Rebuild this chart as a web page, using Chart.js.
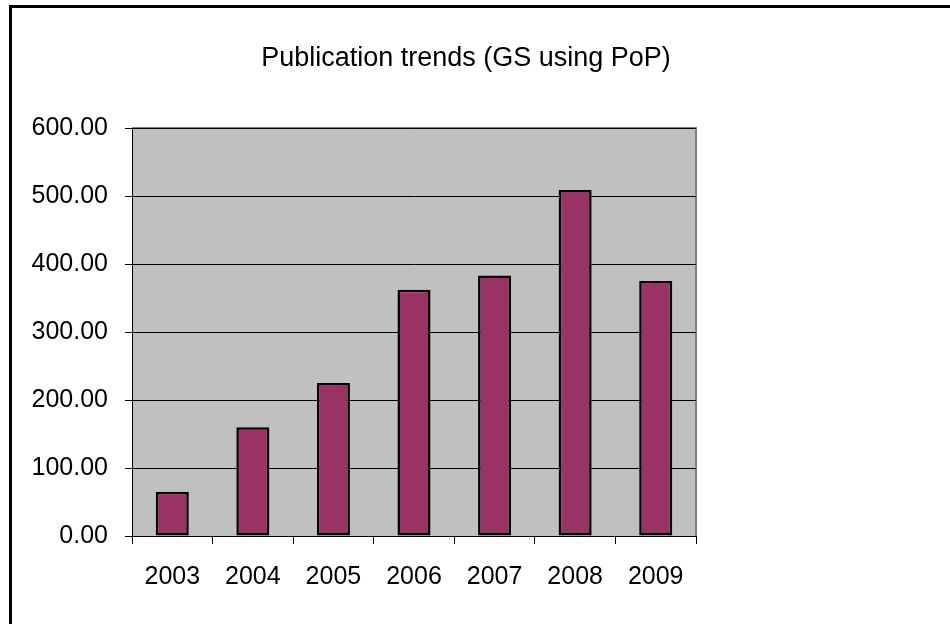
<!DOCTYPE html>
<html>
<head>
<meta charset="utf-8">
<script src="https://cdn.jsdelivr.net/npm/chart.js@4/dist/chart.umd.min.js"></script>
<style>
    html, body { margin: 0; padding: 0; background: #fff; }
    #wrap { width: 950px; height: 624px; position: relative; }
</style>
</head>
<body>
<div id="wrap"><canvas id="pubChart"></canvas></div>
<script>
const years = ['2003', '2004', '2005', '2006', '2007', '2008', '2009'];
const publications = [65, 160, 225, 362, 383, 509, 375];
const yTicks = [0, 100, 200, 300, 400, 500, 600];

// gray plot background + outer chart frame, like the old spreadsheet look
const plotBackground = {
    id: 'plotBackground',
    beforeDraw(chart) {
        const ctx = chart.ctx;
        const a = chart.chartArea;
        ctx.save();
        ctx.fillStyle = '#c0c0c0';
        ctx.fillRect(a.left, a.top, a.right - a.left, a.bottom - a.top);
        ctx.strokeStyle = '#808080';
        ctx.lineWidth = 2;
        ctx.beginPath();
        ctx.moveTo(a.left, a.top);
        ctx.lineTo(a.right, a.top);
        ctx.lineTo(a.right, a.bottom);
        ctx.stroke();
        ctx.strokeStyle = '#000';
        ctx.lineWidth = 3;
        ctx.beginPath();
        ctx.moveTo(10.5, chart.height);
        ctx.lineTo(10.5, 6.5);
        ctx.lineTo(chart.width, 6.5);
        ctx.stroke();
        ctx.restore();
    }
};

const font = '"Liberation Sans", Arial, sans-serif';

const ctx = document.getElementById('pubChart');
new Chart(ctx, {
    type: 'bar',
    data: {
        labels: years,
        datasets: [{
            data: publications,
            backgroundColor: '#993366',
            borderColor: '#000',
            borderWidth: 2.5,
            borderSkipped: false,
            categoryPercentage: 1,
            barPercentage: 0.41
        }]
    },
    options: {
        responsive: true,
        maintainAspectRatio: false,
        animation: false,
        layout: {padding: {top: 0, left: 0, right: 18, bottom: 0}},
        plugins: {
            legend: {display: false},
            tooltip: {enabled: false},
            title: {
                display: true,
                text: 'Publication trends (GS using PoP)',
                color: '#000',
                font: {family: font, size: 27, weight: 'normal', lineHeight: 1.2},
                padding: {top: 42, bottom: 53.6}
            }
        },
        scales: {
            x: {
                afterFit: s => { s.height = 88; },
                grid: {drawOnChartArea: false, drawTicks: true, tickLength: 8, color: '#000', offset: true},
                border: {color: '#000', width: 1},
                ticks: {
                    color: '#000',
                    padding: 18,
                    font: {family: font, size: 25}
                }
            },
            y: {
                min: 0,
                max: 600,
                afterFit: s => { s.width = 132; },
                afterBuildTicks: s => { s.ticks = yTicks.map(v => ({value: v})); },
                grid: {color: '#000', lineWidth: 1, tickLength: 7},
                border: {color: '#000', width: 1},
                ticks: {
                    color: '#000',
                    padding: 17,
                    font: {family: font, size: 25},
                    callback: v => Number(v).toFixed(2)
                }
            },
            // empty right-hand axis only reserves the blank space right of the plot
            yRight: {
                position: 'right',
                min: 0,
                max: 600,
                afterFit: s => { s.width = 236; },
                grid: {display: false},
                border: {display: false},
                ticks: {display: false}
            }
        }
    },
    plugins: [plotBackground]
});
</script>
</body>
</html>
